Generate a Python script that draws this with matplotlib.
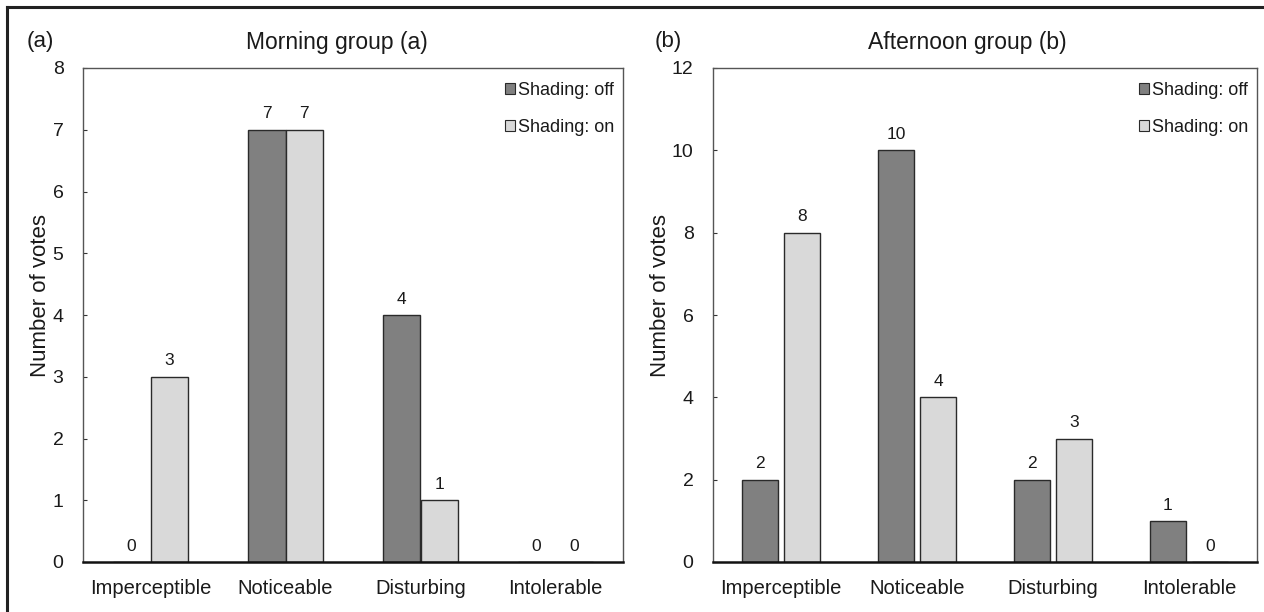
import matplotlib
matplotlib.use("Agg")
import matplotlib.pyplot as plt
import numpy as np
from matplotlib.lines import Line2D

plt.rcParams['font.family'] = ['Liberation Sans', 'DejaVu Sans']

categories = ["Imperceptible", "Noticeable", "Disturbing", "Intolerable"]
morning_off = [0, 7, 4, 0]
morning_on = [3, 7, 1, 0]
afternoon_off = [2, 10, 2, 1]
afternoon_on = [8, 4, 3, 0]
series_labels = ["Shading: off", "Shading: on"]
titles = ["Morning group (a)", "Afternoon group (b)"]
panel_tags = ["(a)", "(b)"]
ymax = [8, 12]
ystep = [1, 2]

DARK = "#808080"
LIGHT = "#d9d9d9"
EDGE = "#2a2a2a"
TXT = "#1a1a1a"

fig = plt.figure(figsize=(12.64, 6.12), dpi=100)
W, H = 1264, 612

def box(l, t, r, b):
    return [l / W, 1 - b / H, (r - l) / W, (b - t) / H]

axes = [fig.add_axes(box(83, 68, 623, 562)), fig.add_axes(box(713, 68, 1257, 562))]
data = [(morning_off, morning_on), (afternoon_off, afternoon_on)]
widths = [0.28, 0.26]
offsets = [0.14, 0.155]
tag_x = [27, 655]
title_x = [337, 967]
ylabel_x = [-0.059, -0.077]

for i, ax in enumerate(axes):
    off, on = data[i]
    x = np.arange(len(categories))
    w = widths[i]
    o = offsets[i]
    b1 = ax.bar(x - o, off, w, color=DARK, edgecolor=EDGE, linewidth=1.0, label=series_labels[0])
    b2 = ax.bar(x + o, on, w, color=LIGHT, edgecolor=EDGE, linewidth=1.0, label=series_labels[1])
    for bars, vals in ((b1, off), (b2, on)):
        for rect, v in zip(bars, vals):
            ax.annotate(str(v), (rect.get_x() + rect.get_width() / 2, v),
                        xytext=(0, 6), textcoords="offset points",
                        ha="center", va="bottom", fontsize=12.5, color=TXT)
    ax.set_xlim(-0.5, 3.5)
    ax.set_ylim(0, ymax[i])
    ax.set_yticks(np.arange(0, ymax[i] + 0.1, ystep[i]))
    ax.set_xticks(x)
    ax.set_xticklabels(categories, fontsize=14.5, color=TXT)
    ax.tick_params(axis='x', length=0, pad=12)
    ax.tick_params(axis='y', direction='in', length=3, width=0.8, labelsize=14, pad=14,
                   color="#333333", labelcolor=TXT)
    for s in ["top", "right", "left"]:
        ax.spines[s].set_color("#555555")
        ax.spines[s].set_linewidth(1.0)
    ax.spines["bottom"].set_color("#111111")
    ax.spines["bottom"].set_linewidth(1.8)
    ax.set_ylabel("Number of votes", fontsize=16, color=TXT)
    ax.yaxis.set_label_coords(ylabel_x[i], 0.54)
    fig.text(title_x[i] / W, 1 - 42 / H, titles[i], fontsize=16.5, ha="center", va="center", color=TXT)
    fig.text(tag_x[i] / W, 1 - 42 / H, panel_tags[i], fontsize=16, ha="left", va="center", color=TXT)
    handles = [plt.Rectangle((0, 0), 1, 1, facecolor=DARK, edgecolor=EDGE, linewidth=0.8),
               plt.Rectangle((0, 0), 1, 1, facecolor=LIGHT, edgecolor=EDGE, linewidth=0.8)]
    leg = ax.legend(handles, series_labels, loc="upper right", frameon=False, fontsize=13,
                    handlelength=0.55, handleheight=0.55, handletextpad=0.15, labelspacing=1.1,
                    borderaxespad=0.1, bbox_to_anchor=(1.0, 0.99))
    for t in leg.get_texts():
        t.set_color(TXT)

# outer frame (top and left visible)
fig.add_artist(Line2D([7 / W, 7 / W], [0, 1 - 7 / H], transform=fig.transFigure, color="#222222", linewidth=2.2))
fig.add_artist(Line2D([7 / W, 1.0], [1 - 7 / H, 1 - 7 / H], transform=fig.transFigure, color="#222222", linewidth=2.2))

fig.savefig("out.png", dpi=100)
